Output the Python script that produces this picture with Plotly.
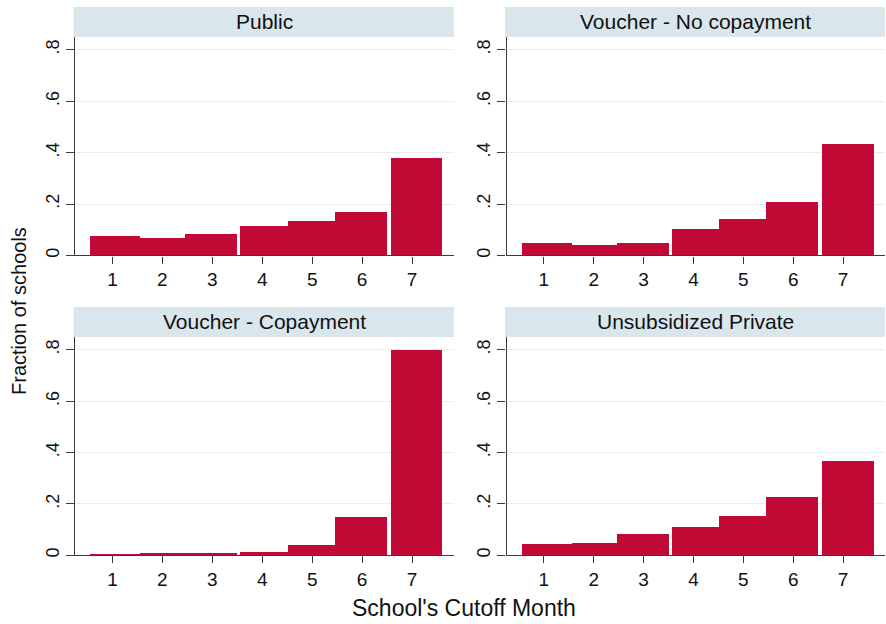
import plotly.graph_objects as go

# Share of schools by cutoff month, one panel per school type
months = [1, 2, 3, 4, 5, 6, 7]
bin_lo = [0.55, 1.55, 2.45, 3.55, 4.51, 5.45, 6.57]
bin_hi = [1.55, 2.45, 3.49, 4.51, 5.45, 6.49, 7.60]

panel_titles = ["Public", "Voucher - No copayment",
                "Voucher - Copayment", "Unsubsidized Private"]
public = [0.075, 0.067, 0.084, 0.117, 0.136, 0.169, 0.380]
voucher_no_copay = [0.049, 0.041, 0.049, 0.105, 0.143, 0.207, 0.434]
voucher_copay = [0.006, 0.010, 0.010, 0.014, 0.040, 0.150, 0.800]
unsubsidized = [0.044, 0.049, 0.083, 0.111, 0.154, 0.226, 0.366]

y_tickvals = [0, 0.2, 0.4, 0.6, 0.8]
y_ticktext = ["0", ".2", ".4", ".6", ".8"]

W, H = 886, 624
BAR = "#c00935"
STRIP = "#d9e6eb"
GRID = "#e6eff0"
AXIS = "#3a3a3a"
FONT = "Liberation Sans, Arial, Helvetica, sans-serif"

series = [public, voucher_no_copay, voucher_copay, unsubsidized]

# panel boxes in pixels: (left, right, top, bottom)
boxes = [(75, 454, 37, 256.3), (506.5, 885, 37, 256.3),
         (75, 454, 338, 557), (506.5, 885, 338, 557)]

centers = [(a + b) / 2 for a, b in zip(bin_lo, bin_hi)]
widths = [b - a for a, b in zip(bin_lo, bin_hi)]

fig = go.Figure()
shapes = []
annotations = []
for i, (vals, title, box) in enumerate(zip(series, panel_titles, boxes)):
    n = "" if i == 0 else str(i + 1)
    left, right, top, bottom = box
    fig.add_trace(go.Bar(
        x=centers, y=vals, width=widths,
        marker=dict(color=BAR, line=dict(width=0)),
        xaxis="x" + n, yaxis="y" + n, showlegend=False,
        hovertext=[f"month {m}: {v:.3f}" for m, v in zip(months, vals)],
        hoverinfo="text",
    ))
    fig.layout["xaxis" + n] = dict(
        domain=[left / W, right / W], anchor="y" + n,
        range=[0.25, 7.84], tickvals=months,
        ticks="outside", ticklen=7, tickwidth=1.3, tickcolor=AXIS,
        showline=True, linecolor=AXIS, linewidth=1.3,
        showgrid=False, zeroline=False,
        tickfont=dict(family=FONT, size=19, color="#111"),
        fixedrange=True,
    )
    fig.layout["yaxis" + n] = dict(
        domain=[1 - bottom / H, 1 - top / H], anchor="x" + n,
        range=[0, 0.85], tickvals=y_tickvals, ticktext=y_ticktext,
        tickangle=-90,
        ticks="outside", ticklen=8, tickwidth=1.3, tickcolor=AXIS,
        showline=True, linecolor=AXIS, linewidth=1.3,
        showgrid=True, gridcolor=GRID, gridwidth=1.3, zeroline=False,
        tickfont=dict(family=FONT, size=18, color="#111"),
        ticklabelstandoff=0,
        fixedrange=True,
    )
    # header strip above each panel
    shapes.append(dict(
        type="rect", xref="paper", yref="paper",
        x0=(left - 1.5) / W, x1=right / W,
        y0=1 - top / H, y1=1 - (top - 30) / H,
        fillcolor=STRIP, line=dict(width=0), layer="below",
    ))
    annotations.append(dict(
        text=title, xref="paper", yref="paper",
        x=(left + right) / 2 / W, y=1 - (top - 15) / H,
        xanchor="center", yanchor="middle", showarrow=False,
        font=dict(family=FONT, size=21, color="#111"),
    ))

annotations.append(dict(
    text="School's Cutoff Month", xref="paper", yref="paper",
    x=464 / W, y=1 - 610 / H, xanchor="center", yanchor="middle",
    showarrow=False, font=dict(family=FONT, size=23, color="#111"),
))
annotations.append(dict(
    text="Fraction of schools", xref="paper", yref="paper",
    x=19 / W, y=1 - 312 / H, xanchor="center", yanchor="middle",
    textangle=-90, showarrow=False,
    font=dict(family=FONT, size=20, color="#111"),
))

fig.update_layout(
    width=W, height=H,
    margin=dict(l=0, r=0, t=0, b=0),
    paper_bgcolor="white", plot_bgcolor="white",
    bargap=0, barmode="overlay",
    shapes=shapes, annotations=annotations,
)

fig.write_html("out.html", config={"displayModeBar": False})
